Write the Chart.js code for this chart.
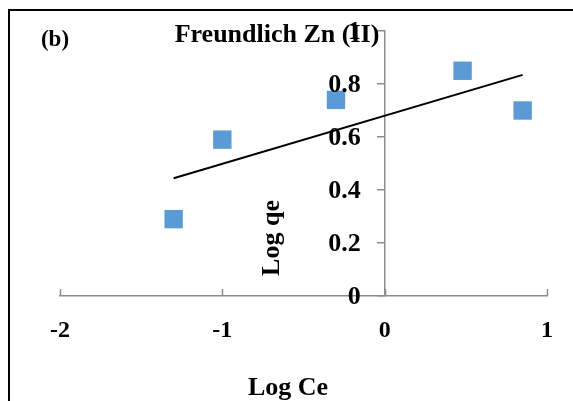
<!DOCTYPE html>
<html>
<head>
<meta charset="utf-8">
<title>Freundlich Zn (II)</title>
<script src="https://cdn.jsdelivr.net/npm/chart.js@4/dist/chart.umd.min.js"></script>
<style>
    html, body { margin: 0; padding: 0; background: #fff; }
    canvas { display: block; }
</style>
</head>
<body>
<canvas id="freundlich-chart" width="573" height="401"></canvas>
<script>
// log Ce / log qe pairs
const logCe = [-1.30, -1.00, -0.30, 0.48, 0.85];
const logQe = [0.29, 0.59, 0.74, 0.85, 0.70];

const xTicks = [-2, -1, 0, 1];
const yTicks = [0, 0.2, 0.4, 0.6, 0.8, 1];

const serif = '"Liberation Serif", "Times New Roman", serif';
const axisGrey = '#8c8c8c';

// least squares trend line over the measured range
function trendLine(xs, ys) {
    const n = xs.length;
    const mx = xs.reduce((a, b) => a + b, 0) / n;
    const my = ys.reduce((a, b) => a + b, 0) / n;
    let sxy = 0, sxx = 0;
    for (let i = 0; i < n; i++) {
        sxy += (xs[i] - mx) * (ys[i] - my);
        sxx += (xs[i] - mx) * (xs[i] - mx);
    }
    const slope = sxy / sxx;
    const icpt = my - slope * mx;
    const x0 = Math.min(...xs), x1 = Math.max(...xs);
    return [{ x: x0, y: icpt + slope * x0 }, { x: x1, y: icpt + slope * x1 }];
}

const points = logCe.map((x, i) => ({ x: x, y: logQe[i] }));

const frame = {
    id: 'frame',
    beforeDraw(chart) {
        const ctx = chart.ctx;
        ctx.save();
        ctx.fillStyle = '#fff';
        ctx.fillRect(0, 0, chart.width, chart.height);
        ctx.strokeStyle = '#000';
        ctx.lineWidth = 2;
        ctx.strokeRect(9, 10, chart.width + 40, chart.height + 40);
        ctx.restore();
    },
    afterDraw(chart) {
        const ctx = chart.ctx;
        const xs = chart.scales.x;
        const ys = chart.scales.y;
        ctx.save();
        // x tick marks point up into the plot
        ctx.strokeStyle = axisGrey;
        ctx.lineWidth = 1.5;
        xs.ticks.forEach(t => {
            const px = Math.round(xs.getPixelForValue(t.value)) + 0.5;
            ctx.beginPath();
            ctx.moveTo(px, xs.top);
            ctx.lineTo(px, xs.top - 7);
            ctx.stroke();
        });

        // y tick labels sit left of the axis at x = 0
        const axisX = xs.getPixelForValue(0);
        ctx.fillStyle = '#000';
        ctx.font = 'bold 26px ' + serif;
        ctx.textAlign = 'right';
        ctx.textBaseline = 'middle';
        ys.ticks.forEach(t => {
            ctx.fillText(String(Number(t.value.toFixed(1))), axisX - 24, ys.getPixelForValue(t.value) + 1);
        });

        ctx.textAlign = 'center';
        ctx.textBaseline = 'alphabetic';
        ctx.font = 'bold 23px ' + serif;
        ctx.fillText('(b)', 55, 46);
        ctx.font = 'bold 26px ' + serif;
        ctx.fillText('Freundlich Zn (II)', 277, 42);
        ctx.fillText('Log Ce', 288, 395);

        ctx.translate(279, 238);
        ctx.rotate(-Math.PI / 2);
        ctx.fillText('Log qe', 0, 0);
        ctx.restore();
    }
};

const ctx = document.getElementById('freundlich-chart').getContext('2d');
const chart = new Chart(ctx, {
    type: 'scatter',
    data: {
        datasets: [
            {
                type: 'line',
                data: trendLine(logCe, logQe),
                borderColor: '#000',
                borderWidth: 2,
                pointRadius: 0,
                fill: false,
                order: 0
            },
            {
                data: points,
                pointStyle: 'rect',
                pointRadius: 13,
                pointHoverRadius: 13,
                backgroundColor: '#5B9BD5',
                borderWidth: 0,
                order: 1
            }
        ]
    },
    options: {
        responsive: false,
        animation: false,
        devicePixelRatio: 1,
        layout: {
            padding: { left: 60, right: 25, top: 31, bottom: 0 }
        },
        plugins: {
            legend: { display: false },
            tooltip: { enabled: false }
        },
        scales: {
            x: {
                type: 'linear',
                position: 'bottom',
                min: -2,
                max: 1,
                afterBuildTicks: s => { s.ticks = xTicks.map(v => ({ value: v })); },
                afterFit: s => { s.height = 105; },
                grid: { drawOnChartArea: false, drawTicks: false },
                border: { color: axisGrey, width: 1.5 },
                ticks: {
                    padding: 20,
                    color: '#000',
                    font: { family: serif, size: 24, weight: 'bold' },
                    callback: v => String(v)
                }
            },
            y: {
                type: 'linear',
                position: { x: 0 },
                min: 0,
                max: 1,
                afterBuildTicks: s => { s.ticks = yTicks.map(v => ({ value: v })); },
                grid: { drawOnChartArea: false, drawTicks: true, tickLength: 7, color: axisGrey, lineWidth: 1.5 },
                border: { color: axisGrey, width: 1.5 },
                ticks: { display: false }
            }
        }
    },
    plugins: [frame]
});
</script>
</body>
</html>
